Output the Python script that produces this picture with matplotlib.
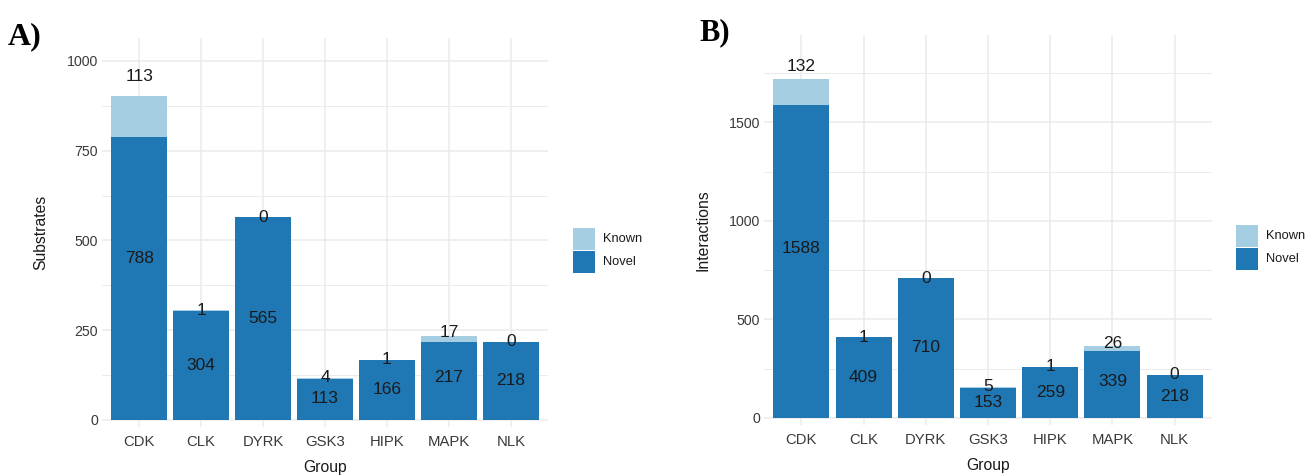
import matplotlib
matplotlib.use("Agg")
import matplotlib.pyplot as plt
import numpy as np
from matplotlib.patches import Rectangle

plt.rcParams['font.family'] = ['Liberation Sans', 'DejaVu Sans']

groups = ["CDK", "CLK", "DYRK", "GSK3", "HIPK", "MAPK", "NLK"]
substrates_novel = [788, 304, 565, 113, 166, 217, 218]
substrates_known = [113, 1, 0, 4, 1, 17, 0]
interactions_novel = [1588, 409, 710, 153, 259, 339, 218]
interactions_known = [132, 1, 0, 5, 1, 26, 0]

C_KNOWN = "#a6cee3"
C_NOVEL = "#1f78b4"
GRID = "#ebebeb"

W, H = 1315, 475
fig = plt.figure(figsize=(W / 100, H / 100), dpi=100)


def box(left, top, right, bottom):
    return [left / W, 1 - bottom / H, (right - left) / W, (bottom - top) / H]


def panel(rect, novel, known, ylabel, ylim, major, minor):
    ax = fig.add_axes(rect)
    x = np.arange(len(groups))
    novel = np.array(novel)
    known = np.array(known)
    ax.set_xlim(-0.6, len(groups) - 0.4)
    ax.set_ylim(*ylim)
    for m in minor:
        ax.axhline(m, color=GRID, lw=0.7, zorder=0)
    for m in major:
        ax.axhline(m, color=GRID, lw=1.1, zorder=0)
    for xi in x:
        ax.axvline(xi, color=GRID, lw=1.1, zorder=0)
    ax.bar(x, novel, width=0.9, color=C_NOVEL, zorder=2)
    ax.bar(x, known, width=0.9, bottom=novel, color=C_KNOWN, zorder=2)
    # labels: novel in the middle of the stack, known just above
    for xi, n, k in zip(x, novel, known):
        ax.text(xi, (n + k) / 2, str(n), ha="center", va="center",
                fontsize=12.5, color="#1a1a1a", zorder=3)
        ax.text(xi, n + 1.5 * k, str(k), ha="center", va="center",
                fontsize=12.5, color="#1a1a1a", zorder=3)
    ax.set_xticks(x)
    ax.set_xticklabels(groups)
    ax.set_yticks(major)
    ax.tick_params(length=0, labelsize=10.2, labelcolor="#3a3a3a", pad=3)
    ax.tick_params(axis="x", labelsize=10.7, pad=6)
    for s in ax.spines.values():
        s.set_visible(False)
    ax.set_xlabel("Group", fontsize=11.3, color="#1a1a1a", labelpad=8)
    ax.set_ylabel(ylabel, fontsize=11.3, color="#1a1a1a", labelpad=13)
    return ax


panel(box(102, 38, 548, 427), substrates_novel, substrates_known, "Substrates",
      (-20, 1064), [0, 250, 500, 750, 1000], [125, 375, 625, 875])
panel(box(764, 35, 1212, 425), interactions_novel, interactions_known, "Interactions",
      (-36, 1944), [0, 500, 1000, 1500], [250, 750, 1250, 1750])


def legend(x0, y0):
    sz = 22
    for i, (lab, col) in enumerate([("Known", C_KNOWN), ("Novel", C_NOVEL)]):
        top = y0 + i * (sz + 1)
        fig.add_artist(Rectangle((x0 / W, 1 - (top + sz) / H), sz / W, sz / H,
                                 transform=fig.transFigure, facecolor=col,
                                 edgecolor="none"))
        fig.text((x0 + sz + 8) / W, 1 - (top + sz / 2) / H, lab, fontsize=9.3,
                 va="center", ha="left", color="#1a1a1a")


legend(573, 228)
legend(1236, 225)

fig.text(8 / W, 1 - 37 / H, "A)", fontsize=23, fontweight="bold",
         family="Liberation Serif", va="center", ha="left")
fig.text(699 / W, 1 - 33 / H, "B)", fontsize=22, fontweight="bold",
         family="Liberation Serif", va="center", ha="left")

fig.savefig("out.png", dpi=100, facecolor="white")
